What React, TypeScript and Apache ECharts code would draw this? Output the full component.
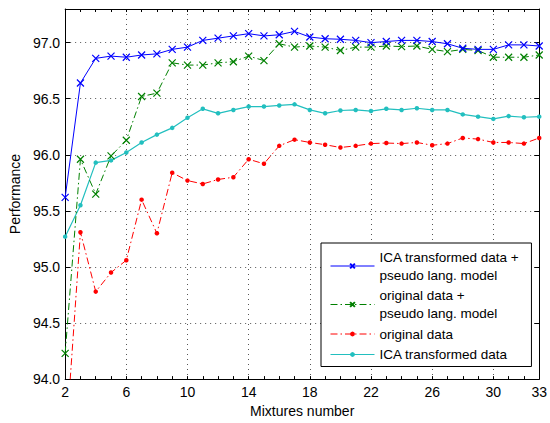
import React, { useEffect, useRef } from 'react';
import * as echarts from 'echarts';

const mixtures = ['2','3','4','5','6','7','8','9','10','11','12','13','14','15','16','17','18','19','20','21','22','23','24','25','26','27','28','29','30','31','32','33'];

const icaPseudo = [95.62, 96.64, 96.86, 96.88, 96.87, 96.89, 96.9, 96.94, 96.96, 97.02, 97.04, 97.06, 97.08, 97.06, 97.07, 97.1,
  97.05, 97.035, 97.03, 97.02, 97.0, 97.01, 97.02, 97.02, 97.01, 96.99, 96.95, 96.94, 96.94, 96.98, 96.98, 96.97];
const origPseudo = [94.23, 95.96, 95.65, 95.99, 96.13, 96.52, 96.55, 96.82, 96.8, 96.8, 96.82, 96.83, 96.88, 96.84, 96.99, 96.96,
  96.97, 96.96, 96.93, 96.96, 96.96, 96.97, 96.965, 96.97, 96.94, 96.92, 96.94, 96.93, 96.87, 96.87, 96.87, 96.89];
const original = [93.35, 95.31, 94.78, 94.95, 95.06, 95.6, 95.3, 95.84, 95.77, 95.74, 95.78, 95.8, 95.96, 95.92, 96.08, 96.135,
  96.11, 96.09, 96.065, 96.08, 96.1, 96.105, 96.1, 96.11, 96.085, 96.1, 96.15, 96.14, 96.11, 96.11, 96.1, 96.15];
const icaOnly = [95.27, 95.55, 95.93, 95.95, 96.02, 96.11, 96.18, 96.24, 96.33, 96.41, 96.37, 96.4, 96.43, 96.43, 96.44, 96.45,
  96.4, 96.37, 96.395, 96.4, 96.39, 96.41, 96.4, 96.415, 96.4, 96.4, 96.36, 96.34, 96.32, 96.345, 96.335, 96.34];

const labelledX = ['2', '6', '10', '14', '18', '22', '26', '30', '33'];
const gridX = ['6', '10', '14', '18', '22', '26', '30'];

const FONT = 'Liberation Sans, Arial, Helvetica, sans-serif';
const X_SYMBOL = 'path://M0,0L10,10M10,0L0,10';

export default function App() {
  const ref = useRef<HTMLDivElement>(null);
  useEffect(() => {
    if (!ref.current) return;
    const chart = echarts.init(ref.current, null, { renderer: 'svg' });
    const gridLine = { show: true, lineStyle: { color: '#555', type: [1, 4], width: 1 } };
    const axisLine = { show: true, lineStyle: { color: '#000', width: 1 } };
    chart.setOption({
      animation: false,
      backgroundColor: '#fff',
      grid: { left: 63, right: 9, top: 9, bottom: 37, containLabel: false },
      xAxis: [
        {
          type: 'category',
          data: mixtures,
          boundaryGap: false,
          position: 'bottom',
          name: 'Mixtures number',
          nameLocation: 'middle',
          nameGap: 19,
          nameTextStyle: { fontFamily: FONT, fontSize: 14, color: '#000' },
          axisLine,
          axisTick: { show: true, inside: true, length: 3, interval: 0, lineStyle: { color: '#000' } },
          axisLabel: {
            show: true,
            interval: (i: number, v: string) => labelledX.includes(v),
            margin: 6,
            fontFamily: FONT,
            fontSize: 14,
            color: '#000',
          },
          splitLine: { ...gridLine, interval: (i: number, v: string) => gridX.includes(v) },
        },
        {
          type: 'category',
          data: mixtures,
          boundaryGap: false,
          position: 'top',
          axisLine,
          axisTick: { show: true, inside: true, length: 3, interval: 0, lineStyle: { color: '#000' } },
          axisLabel: { show: false },
          splitLine: { show: false },
        },
      ],
      yAxis: [
        {
          type: 'value',
          min: 94,
          max: 97.3,
          interval: 0.5,
          position: 'left',
          name: 'Performance',
          nameLocation: 'middle',
          nameGap: 43,
          nameTextStyle: { fontFamily: FONT, fontSize: 14, color: '#000' },
          axisLine,
          axisTick: { show: true, inside: true, length: 5, lineStyle: { color: '#000' } },
          axisLabel: {
            margin: 5,
            fontFamily: FONT,
            fontSize: 14,
            color: '#000',
            showMaxLabel: false,
            formatter: (v: number) => (Math.abs(v * 2 - Math.round(v * 2)) > 1e-6 ? '' : v.toFixed(1)),
          },
          splitLine: gridLine,
        },
        {
          type: 'value',
          min: 94,
          max: 97.3,
          interval: 0.5,
          position: 'right',
          axisLine,
          axisTick: { show: true, inside: true, length: 5, lineStyle: { color: '#000' } },
          axisLabel: { show: false },
          splitLine: { show: false },
        },
      ],
      legend: {
        orient: 'vertical',
        left: 321,
        top: 243,
        width: 222,
        padding: [5, 12, 3, 9],
        itemGap: 2.5,
        itemWidth: 44,
        itemHeight: 6,
        backgroundColor: '#fff',
        borderColor: '#000',
        borderWidth: 1,
        borderRadius: 0,
        lineStyle: { width: 1 },
        textStyle: { fontFamily: FONT, fontSize: 13.5, lineHeight: 18, color: '#000' },
        data: [
          'ICA transformed data +\npseudo lang. model',
          'original data +\npseudo lang. model',
          'original data',
          'ICA transformed data',
        ],
      },
      series: [
        {
          name: 'ICA transformed data +\npseudo lang. model',
          type: 'line',
          data: icaPseudo,
          symbol: X_SYMBOL,
          symbolSize: 7,
          showAllSymbol: true,
          lineStyle: { color: '#0000ff', width: 1 },
          itemStyle: { color: '#0000ff', borderColor: '#0000ff', borderWidth: 1.2 },
          z: 5,
        },
        {
          name: 'original data +\npseudo lang. model',
          type: 'line',
          data: origPseudo,
          symbol: X_SYMBOL,
          symbolSize: 7,
          showAllSymbol: true,
          lineStyle: { color: '#008000', width: 1, type: [7, 3, 1.5, 3] },
          itemStyle: { color: '#008000', borderColor: '#008000', borderWidth: 1.2 },
          z: 4,
        },
        {
          name: 'original data',
          type: 'line',
          data: original,
          symbol: 'circle',
          symbolSize: 4.5,
          showAllSymbol: true,
          clip: true,
          lineStyle: { color: '#ff0000', width: 1, type: [7, 3, 1.5, 3] },
          itemStyle: { color: '#ff0000', borderWidth: 0 },
          z: 3,
        },
        {
          name: 'ICA transformed data',
          type: 'line',
          data: icaOnly,
          symbol: 'circle',
          symbolSize: 4.5,
          showAllSymbol: true,
          lineStyle: { color: '#22bfbf', width: 1.2 },
          itemStyle: { color: '#22bfbf', borderWidth: 0 },
          z: 2,
        },
      ],
    });
    return () => chart.dispose();
  }, []);
  return <div ref={ref} style={{ width: 550, height: 423, position: 'absolute', left: 0, top: 0 }} />;
}
